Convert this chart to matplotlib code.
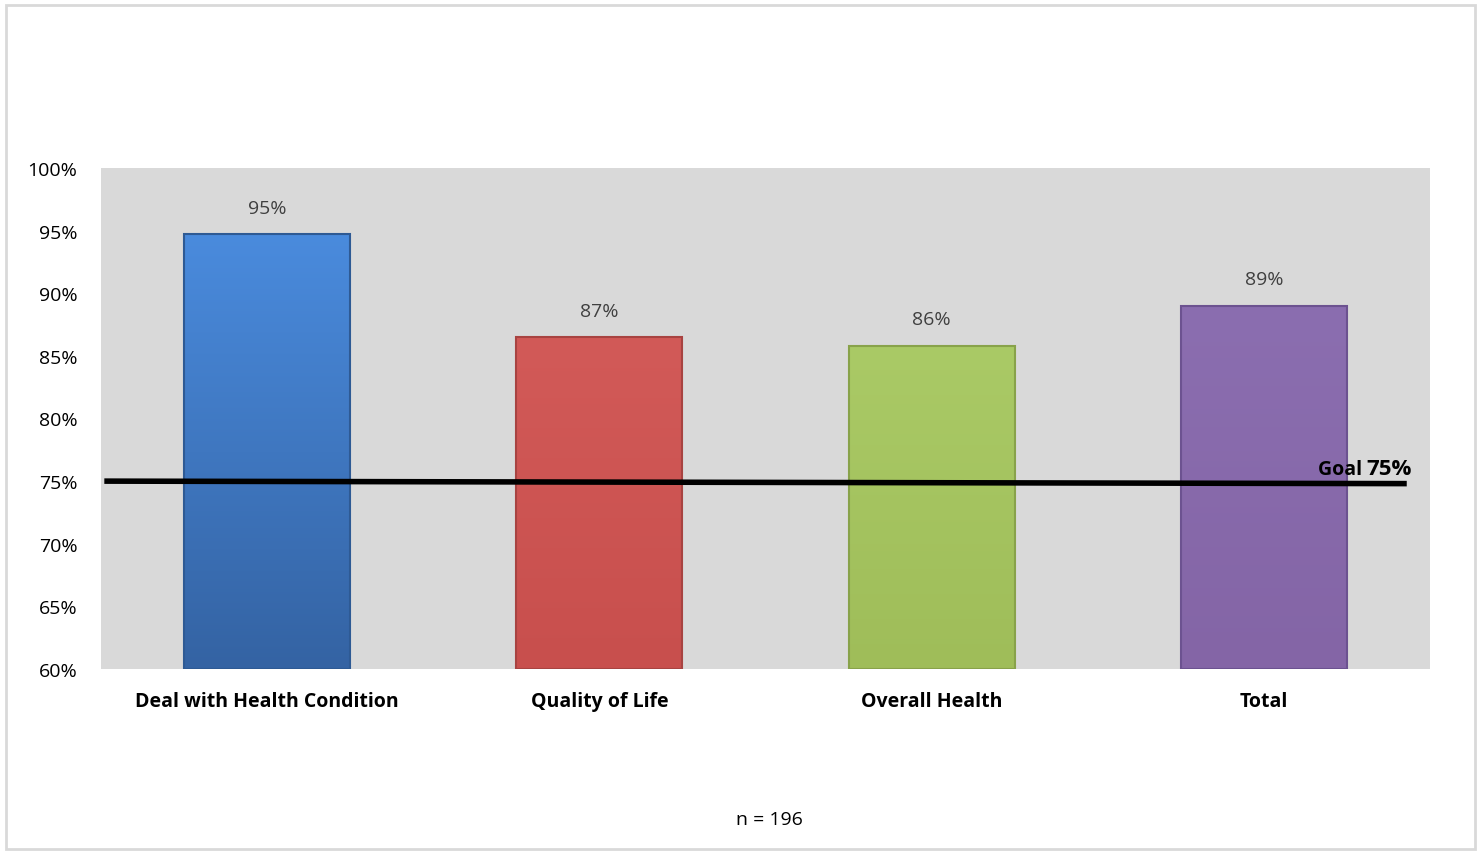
import numpy as np
import matplotlib
matplotlib.use("Agg")
import matplotlib.pyplot as plt
from matplotlib.colors import LinearSegmentedColormap
from matplotlib.patches import Rectangle

plt.rcParams['font.family'] = ['Open Sans', 'DejaVu Sans']

# data
categories = ['Deal with Health Condition', 'Quality of Life', 'Overall Health', 'Total']
values = [94.7, 86.5, 85.8, 89.0]
labels = ['95%', '87%', '86%', '89%']
goal = 75
top_colors = ['#4A8BDD', '#D25A58', '#AACA66', '#8B6EB0']
bottom_colors = ['#3463A3', '#C84F4D', '#9FBD59', '#8465A6']
edge_colors = ['#2E5A94', '#A84341', '#88A24A', '#6C5290']

fig = plt.figure(figsize=(14.81, 8.53), dpi=100)
ax = fig.add_axes([101/1481, 1 - 670/853, (1430-101)/1481, (670-169)/853])
ax.set_facecolor('#D9D9D9')

x = np.arange(len(categories))
bars = ax.bar(x, values, width=0.5, bottom=0, color='none', edgecolor='none', zorder=2)
ax.set_xlim(-0.5, 3.5)
ax.set_ylim(60, 100)

# gradient fill clipped to each bar
grad = np.linspace(0, 1, 256).reshape(-1, 1)
for b, c1, c2, ec in zip(bars, top_colors, bottom_colors, edge_colors):
    x0, w, h = b.get_x(), b.get_width(), b.get_height()
    cmap = LinearSegmentedColormap.from_list('g', [c2, c1])
    im = ax.imshow(grad, extent=[x0, x0 + w, 60, h], origin='lower', cmap=cmap,
                   aspect='auto', zorder=2)
    r = Rectangle((x0, 60), w, h - 60, facecolor='none', edgecolor=ec, lw=1.5, zorder=3)
    ax.add_patch(r)
    im.set_clip_path(r)

for xi, v, lab in zip(x, values, labels):
    ax.text(xi, v + 1.4, lab, ha='center', va='bottom', fontsize=14, color='#404040')

# goal line
ax.plot([-0.49, 3.43], [goal, goal - 0.2], color='black', lw=4, zorder=4, solid_capstyle='butt')
ax.text(3.31, goal + 0.2, 'Goal ', ha='right', va='bottom', fontsize=14, fontweight='bold', zorder=5)
ax.text(3.31, goal + 0.2, '75%', ha='left', va='bottom', fontsize=16, fontweight='bold', zorder=5)

ax.set_yticks(np.arange(60, 101, 5))
ax.set_yticklabels([f'{t}%' for t in range(60, 101, 5)], fontsize=14)
ax.set_xticks(x)
ax.set_xticklabels(categories, fontsize=14, fontweight='bold')
ax.tick_params(length=0)
ax.tick_params(axis='y', pad=17)
ax.tick_params(axis='x', pad=16)
for s in ax.spines.values():
    s.set_visible(False)

fig.text(769/1481, 1 - 820/853, 'n = 196', ha='center', va='center', fontsize=14)

# outer border
fig.patches.append(Rectangle((6/1481, 3/853), 1469/1481, 844/853, transform=fig.transFigure,
                             facecolor='none', edgecolor='#D9D9D9', lw=2))

fig.savefig('out.png', dpi=100)
